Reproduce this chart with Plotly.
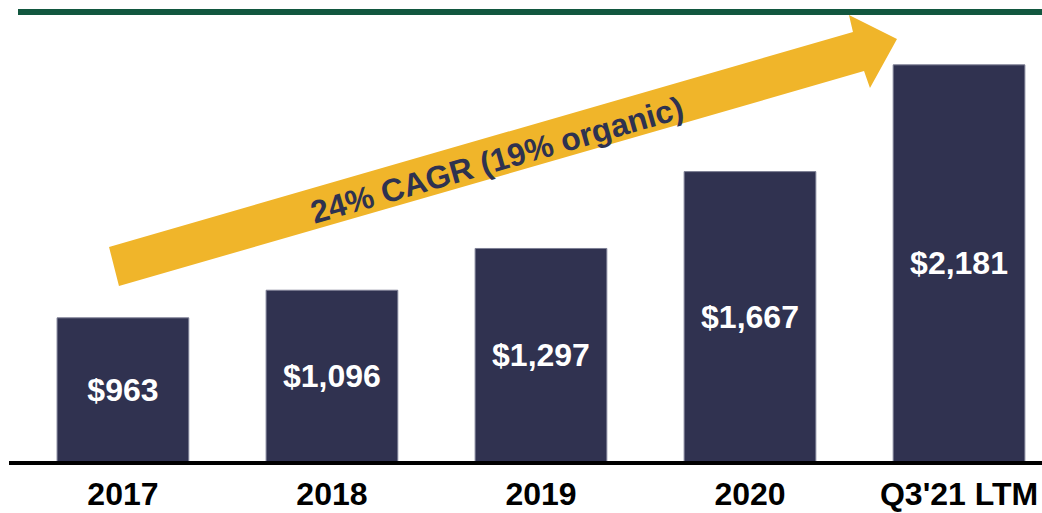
import plotly.graph_objects as go

# data
categories = ["2017", "2018", "2019", "2020", "Q3'21 LTM"]
revenue = [963, 1096, 1297, 1667, 2181]
value_labels = ["$963", "$1,096", "$1,297", "$1,667", "$2,181"]
cagr_label = "24% CAGR (19% organic)"
axis_floor = 270  # value axis does not start at zero in the original

NAVY = "#303250"
GOLD = "#F0B52A"
GREEN = "#12573F"
FONT = "Liberation Sans, Arial, sans-serif"

W, H = 1042, 513
L, R, T, B = 18, 0, 15, 51
pw, ph = W - L - R, H - T - B


def px(x):
    return (x - L) / pw


def py(y):
    return (H - B - y) / ph


fig = go.Figure()
fig.add_trace(go.Bar(
    x=categories, y=[v - axis_floor for v in revenue], base=axis_floor,
    marker=dict(color=NAVY, line=dict(color="#7d7f95", width=1)),
    text=value_labels, textposition="inside", insidetextanchor="middle",
    textangle=0,
    textfont=dict(family=FONT, size=32, color="white", weight="bold"),
    hoverinfo="skip",
))

# growth arrow (pixel outline -> paper coords)
arrow_pts = [(119, 286), (109, 247), (853, 32), (849, 15), (897, 39),
             (870, 88), (864, 71)]
path = "M " + " L ".join(f"{px(a):.4f},{py(b):.4f}" for a, b in arrow_pts) + " Z"

shapes = [
    dict(type="path", xref="paper", yref="paper", path=path,
         fillcolor=GOLD, line=dict(width=0), layer="above"),
    dict(type="line", xref="paper", yref="paper", x0=0, x1=1,
         y0=py(12), y1=py(12), line=dict(color=GREEN, width=6)),
    dict(type="line", xref="paper", yref="paper", x0=px(9), x1=1,
         y0=py(463), y1=py(463), line=dict(color="black", width=4)),
]

fig.update_layout(
    width=W, height=H,
    margin=dict(l=L, r=R, t=T, b=B),
    paper_bgcolor="white", plot_bgcolor="white",
    showlegend=False, bargap=0.37,
    shapes=shapes,
    annotations=[dict(
        xref="paper", yref="paper", x=px(497), y=py(160),
        xanchor="center", yanchor="middle",
        text=cagr_label, showarrow=False, textangle=-16,
        font=dict(family=FONT, size=32, color="#2E3250", weight="bold"),
    )],
    xaxis=dict(range=[-0.502, 4.397], showline=False, showgrid=False,
               zeroline=False, ticks="", ticklabelstandoff=10, automargin=False,
               tickfont=dict(family=FONT, size=32, color="black", weight="bold")),
    yaxis=dict(range=[axis_floor - 1, 2421], visible=False, automargin=False),
)

fig.write_html("out.html", config={"displayModeBar": False},
               post_script="document.body.style.margin='0';")
